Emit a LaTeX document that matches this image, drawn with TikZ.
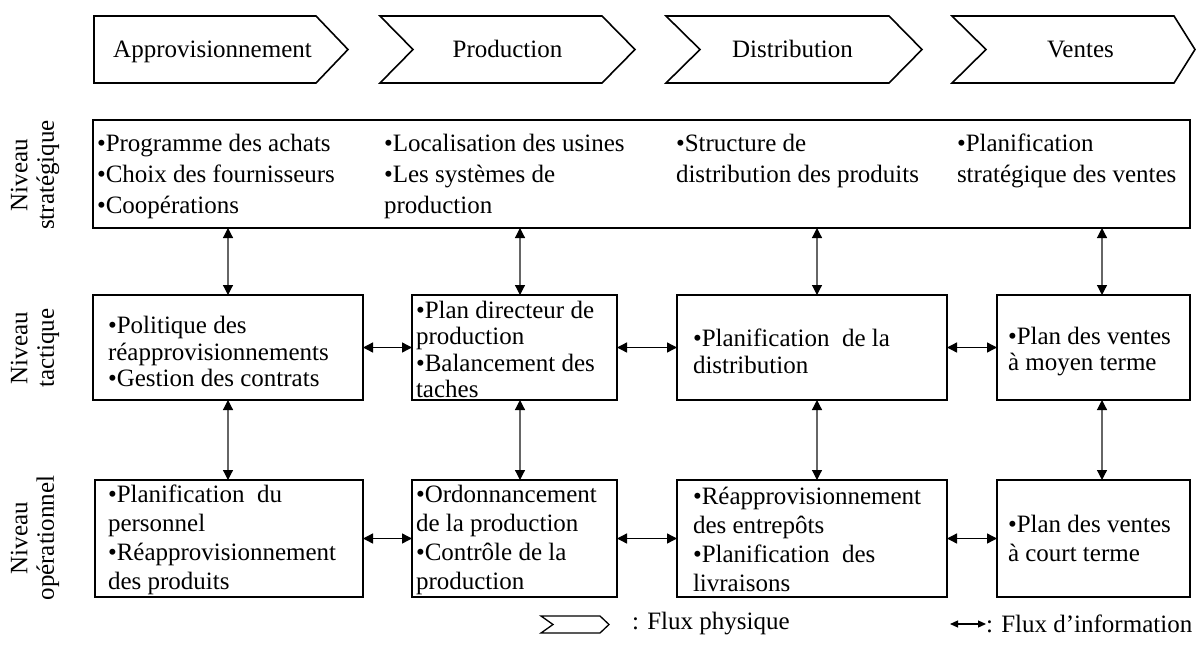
\documentclass[tikz,border=0pt]{standalone}
\usepackage{fontspec}
\setmainfont{Liberation Serif}
\usetikzlibrary{arrows.meta,calc}
\begin{document}
\begin{tikzpicture}[x=1pt,y=-1pt,
  every node/.style={inner sep=0pt,outer sep=0pt},
  chev/.style={draw,line width=1.6pt,line join=miter},
  stage/.style={anchor=base,font=\fontsize{25}{30}\selectfont},
  level/.style={rotate=90,align=center,font=\fontsize{25}{26.5}\selectfont},
  cell/.style={draw,line width=1.6pt,anchor=north west},
  col/.style={align=left,anchor=north west,font=\fontsize{25}{31}\selectfont},
  body/.style={align=left,anchor=west,font=\fontsize{25}{#1}\selectfont},
  tipA/.tip={Triangle[length=10pt,width=10pt,color=black]},
  vlink/.style={draw=black!60,line width=1.2pt,tipA-tipA},
  hlink/.style={draw=black,line width=1.4pt,tipA-tipA},
  legtxt/.style={anchor=west,font=\fontsize{25}{30}\selectfont}
]
\useasboundingbox (0,0) rectangle (1197,648);

% ---- physical flow chevrons ----
\draw[chev] (94,16) -- (316,16) -- (348,49.5) -- (316,83) -- (94,83) -- cycle;
\draw[chev] (380,16) -- (602,16) -- (635,49.5) -- (602,83) -- (380,83) -- (413,49.5) -- cycle;
\draw[chev] (666,16) -- (889,16) -- (922,49.5) -- (889,83) -- (666,83) -- (700,49.5) -- cycle;
\draw[chev] (952,16) -- (1174,16) -- (1195,49.5) -- (1174,83) -- (952,83) -- (986,49.5) -- cycle;
\node[stage] (c1) at (212.5,57.5) {Approvisionnement};
\node[stage] (c2) at (507.5,57.5) {Production};
\node[stage] (c3) at (792.5,57.5) {Distribution};
\node[stage] (c4) at (1080.5,57.5) {Ventes};

% ---- level labels ----
\node[level] (l1) at (35,175) {Niveau\\stratégique};
\node[level] (l2) at (35,348) {Niveau\\tactique};
\node[level] (l3) at (35,538) {Niveau\\opérationnel};

% ---- strategic level ----
\node[cell,minimum width=1097pt,minimum height=108pt] (s) at (93,120) {};
\node[col] (s1) at (97,134) {•Programme des achats\\•Choix des fournisseurs\\•Coopérations};
\node[col] (s2) at (384,134) {•Localisation des usines\\•Les systèmes de\\production};
\node[col] (s3) at (676,134) {•Structure de\\distribution des produits};
\node[col] (s4) at (957,134) {•Planification\\stratégique des ventes};

% ---- tactical level ----
\node[cell,minimum width=270pt,minimum height=105pt] (t1) at (93,295) {};
\node[cell,minimum width=205pt,minimum height=105pt] (t2) at (412,295) {};
\node[cell,minimum width=270pt,minimum height=105pt] (t3) at (677,295) {};
\node[cell,minimum width=193pt,minimum height=105pt] (t4) at (997,295) {};
\node[body=26.5] (t1x) at ([xshift=15pt,yshift=-4pt]t1.west) {•Politique des\\réapprovisionnements\\•Gestion des contrats};
\node[body=26.5] (t2x) at ([xshift=4pt,yshift=-2pt]t2.west) {•Plan directeur de\\production\\•Balancement des\\taches};
\node[body=26.5] (t3x) at ([xshift=16pt,yshift=-4pt]t3.west) {•Planification\ \ de la\\distribution};
\node[body=26.5] (t4x) at ([xshift=11pt,yshift=-4pt]t4.west) {•Plan des ventes\\à moyen terme};

% ---- operational level ----
\node[cell,minimum width=268pt,minimum height=117pt] (o1) at (95,480) {};
\node[cell,minimum width=205pt,minimum height=117pt] (o2) at (412,480) {};
\node[cell,minimum width=270pt,minimum height=117pt] (o3) at (677,480) {};
\node[cell,minimum width=193pt,minimum height=117pt] (o4) at (997,480) {};
\node[body=29] (o1x) at ([xshift=13pt,yshift=-1pt]o1.west) {•Planification\ \ du\\personnel\\•Réapprovisionnement\\des produits};
\node[body=29] (o2x) at ([xshift=4pt,yshift=-1pt]o2.west) {•Ordonnancement\\de la production\\•Contrôle de la\\production};
\node[body=29] (o3x) at ([xshift=16pt,yshift=-1pt]o3.west) {•Réapprovisionnement\\des entrepôts\\•Planification\ \ des\\livraisons};
\node[body=29] (o4x) at ([xshift=11pt,yshift=0pt]o4.west) {•Plan des ventes\\à court terme};

% ---- information flows between levels ----
\coordinate (v1) at (228,0);
\coordinate (v2) at (520,0);
\coordinate (v3) at (817,0);
\coordinate (v4) at (1102,0);
\draw[vlink] (v1 |- s.south) -- (v1 |- t1.north);
\draw[vlink] (v2 |- s.south) -- (v2 |- t2.north);
\draw[vlink] (v3 |- s.south) -- (v3 |- t3.north);
\draw[vlink] (v4 |- s.south) -- (v4 |- t4.north);
\draw[vlink] (v1 |- t1.south) -- (v1 |- o1.north);
\draw[vlink] (v2 |- t2.south) -- (v2 |- o2.north);
\draw[vlink] (v3 |- t3.south) -- (v3 |- o3.north);
\draw[vlink] (v4 |- t4.south) -- (v4 |- o4.north);

% ---- information flows within a level ----
\draw[hlink] (t1.east) -- (t2.west);
\draw[hlink] (t2.east) -- (t3.west);
\draw[hlink] (t3.east) -- (t4.west);
\draw[hlink] (o1.east) -- (o2.west);
\draw[hlink] (o2.east) -- (o3.west);
\draw[hlink] (o3.east) -- (o4.west);

% ---- legend ----
\draw[line width=1.3pt,line join=miter] (541,616) -- (600,616) -- (609,624.5) -- (600,633) -- (541,633) -- (553,624.5) -- cycle;
\node[legtxt] (lg1) at (632,624) {: Flux physique};
\coordinate (la) at (950,624);
\node[legtxt] (lg2) at (986,624) {: Flux d’information};
\draw[line width=1.2pt,{Triangle[length=8pt,width=7pt]}-{Triangle[length=8pt,width=7pt]}] (la) -- (lg2.west);
\end{tikzpicture}
\end{document}
